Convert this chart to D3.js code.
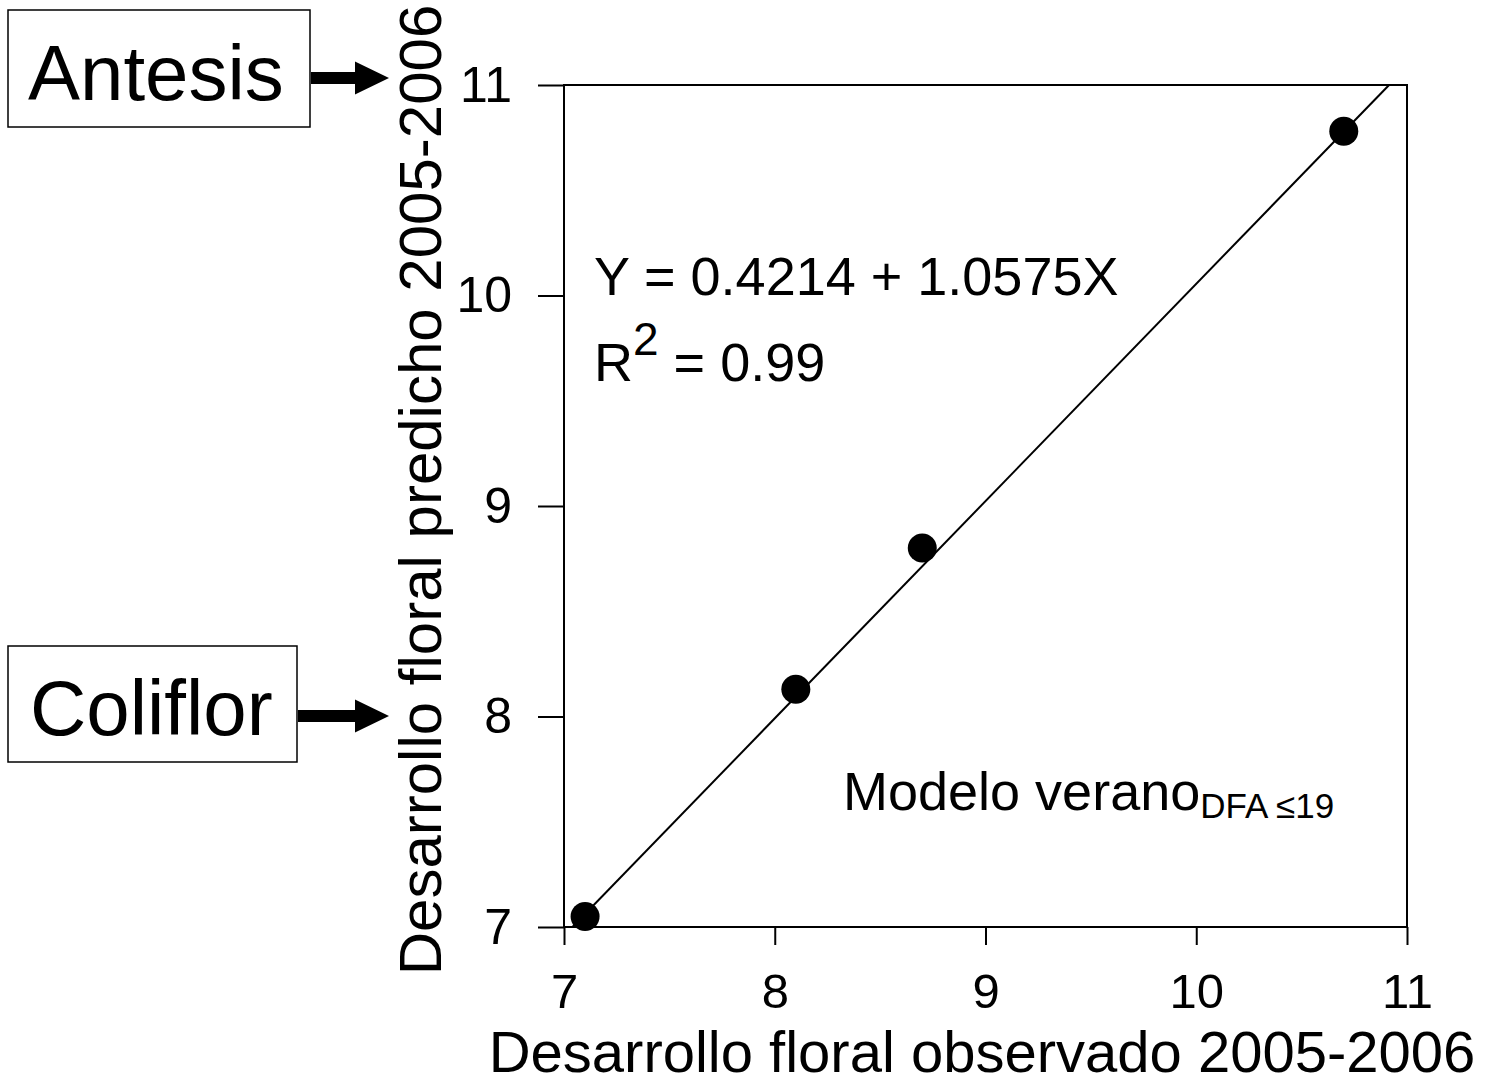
<!DOCTYPE html>
<html>
<head>
<meta charset="utf-8">
<script src="https://cdn.jsdelivr.net/npm/d3@7"></script>
<style>
  body { margin: 0; background: #fff; }
  text { font-family: "Liberation Sans", Arial, sans-serif; fill: #000; }
</style>
</head>
<body>
<div id="chart"></div>
<script>
// observed vs predicted floral development
var observed  = [7.1, 8.1, 8.7, 10.7];
var predicted = [7.05, 8.13, 8.8, 10.78];
// fitted line endpoints (clipped to the frame)
var fitX = [7.04, 10.915];
var fitY = [7, 11];
var ticks = [7, 8, 9, 10, 11];

var margin = {top: 85, right: 87, bottom: 157, left: 564},
  W = 1494, H = 1084,
  width = W - margin.left - margin.right,
  height = H - margin.top - margin.bottom;

var svg = d3.select("#chart").append("svg")
  .attr("width", W).attr("height", H);

var g = svg.append("g")
  .attr("transform", "translate(" + margin.left + "," + margin.top + ")");

var x = d3.scaleLinear().domain([7, 11]).range([0, width]);
var y = d3.scaleLinear().domain([7, 11]).range([height, 0]);

// frame
g.append("rect")
  .attr("width", width).attr("height", height)
  .attr("fill", "none").attr("stroke", "#000").attr("stroke-width", 2);

// axes
var xAxis = g.append("g")
  .attr("transform", "translate(0," + height + ")")
  .call(d3.axisBottom(x).tickValues(ticks).tickSize(18).tickPadding(28).tickFormat(d3.format("d")));
xAxis.select(".domain").remove();
xAxis.selectAll("line").attr("stroke-width", 2);
xAxis.selectAll("text").attr("font-size", 49).attr("dy", "0.71em");

var yAxis = g.append("g")
  .call(d3.axisLeft(y).tickValues(ticks).tickSize(26).tickPadding(26).tickFormat(d3.format("d")));
yAxis.select(".domain").remove();
yAxis.selectAll("line").attr("stroke-width", 2);
yAxis.selectAll("text").attr("font-size", 50);

// fitted line
g.append("line")
  .attr("x1", x(fitX[0])).attr("y1", y(fitY[0]))
  .attr("x2", x(fitX[1])).attr("y2", y(fitY[1]))
  .attr("stroke", "#000").attr("stroke-width", 2);

// points
g.selectAll("circle")
  .data(observed)
  .enter()
  .append("circle")
    .attr("cx", function(d) { return x(d); })
    .attr("cy", function(d, i) { return y(predicted[i]); })
    .attr("r", 14.5)
    .attr("fill", "#000");

// annotations
g.append("text")
  .attr("x", 30).attr("y", 210)
  .attr("font-size", 54)
  .text("Y = 0.4214 + 1.0575X");

var r2 = g.append("text")
  .attr("x", 30).attr("y", 296)
  .attr("font-size", 54);
r2.append("tspan").text("R");
r2.append("tspan").attr("font-size", 46).attr("dy", -26).text("2");
r2.append("tspan").attr("dy", 26).text(" = 0.99");

var model = g.append("text")
  .attr("x", 279).attr("y", 725)
  .attr("font-size", 54);
model.append("tspan").text("Modelo verano");
model.append("tspan").attr("font-size", 35).attr("dy", 8).text("DFA \u226419");

// axis titles
svg.append("text")
  .attr("x", 982).attr("y", 1071.5)
  .attr("text-anchor", "middle")
  .attr("font-size", 58)
  .text("Desarrollo floral observado 2005-2006");

svg.append("text")
  .attr("transform", "translate(441,490) rotate(-90)")
  .attr("text-anchor", "middle")
  .attr("font-size", 60)
  .text("Desarrollo floral predicho 2005-2006");

// boxed labels with arrows
function boxLabel(label, bx, by, bw, bh, tx, ty, ax0, ax1, ay) {
  svg.append("rect")
    .attr("x", bx).attr("y", by).attr("width", bw).attr("height", bh)
    .attr("fill", "#fff").attr("stroke", "#000").attr("stroke-width", 1.5);
  svg.append("text")
    .attr("x", tx).attr("y", ty)
    .attr("font-size", 78)
    .text(label);
  svg.append("line")
    .attr("x1", ax0).attr("y1", ay).attr("x2", ax1 - 32).attr("y2", ay)
    .attr("stroke", "#000").attr("stroke-width", 12);
  svg.append("path")
    .attr("d", "M" + (ax1 - 34) + "," + (ay - 16.5) + "L" + ax1 + "," + ay + "L" + (ax1 - 34) + "," + (ay + 16.5) + "Z")
    .attr("fill", "#000");
}
boxLabel("Antesis", 8, 10, 302, 117, 28, 100, 311, 389, 78);
boxLabel("Coliflor", 8, 646, 289, 116, 30, 735, 298, 389, 716);
</script>
</body>
</html>
